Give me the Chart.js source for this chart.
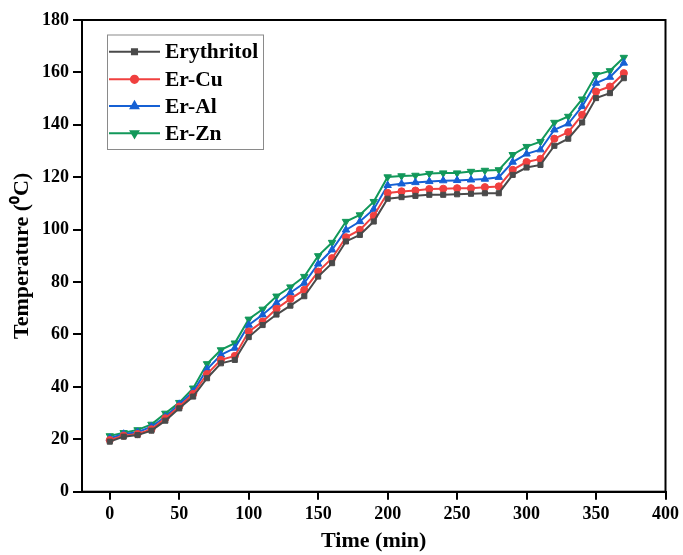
<!DOCTYPE html>
<html>
<head>
<meta charset="utf-8">
<script src="https://cdn.jsdelivr.net/npm/chart.js@4/dist/chart.umd.min.js"></script>
<style>
html,body{margin:0;padding:0;background:#fff;}
#wrap{width:683px;height:555px;position:relative;}
</style>
</head>
<body>
<div id="wrap"><canvas id="c" width="683" height="555"></canvas></div>
<script>
const times = [0,10,20,30,40,50,60,70,80,90,100,110,120,130,140,150,160,170,180,190,200,210,220,230,240,250,260,270,280,290,300,310,320,330,340,350,360,370];
const erythritol = [19.1,21,21.6,23.3,27.1,31.8,36.3,43.3,49,50.3,59,63.6,67.6,71,74.6,82.1,87.2,95.5,98,103.1,111.8,112.4,112.9,113.3,113.3,113.5,113.7,113.9,113.9,120.9,123.7,124.7,132,134.7,140.9,150.2,152.1,157.8];
const erCu = [19.7,21.4,22,23.8,28,32.5,37.3,44.9,50.3,51.8,61.1,64.9,69.8,73.6,77,84,89.1,97.1,99.9,105.3,114,114.6,114.9,115.5,115.6,115.8,115.8,116.2,116.5,122.8,125.8,127,134.7,137.2,143.8,152.7,154.6,159.7];
const erAl = [20.4,22,22.7,24.8,28.6,33.4,38.2,46.7,52.2,54.8,63.6,67.5,72,75.9,79.6,86.9,92.3,99.9,103.1,107.8,116.9,117.5,118,118.4,118.7,118.8,119,119.3,120,125.8,128.9,130.5,138.1,140.4,147,155.9,158.2,163.6];
const erZn = [21.3,22.5,23.6,25.7,29.9,34,39.5,48.8,54.1,56.7,65.8,69.6,74.6,78.1,82.1,90,95.1,103.1,105.6,110.7,120.1,120.5,120.7,121.4,121.6,121.6,122.2,122.6,122.8,128.6,131.7,133.6,140.9,143.2,149.8,159.1,160.6,165.7];
const seriesLabels = ['Erythritol','Er-Cu','Er-Al','Er-Zn'];
const xTicks = [0,50,100,150,200,250,300,350,400];
const yTicks = [0,20,40,60,80,100,120,140,160,180];
const xTitle = 'Time (min)';
const yTitle = 'Temperature (\u2070C)';

const colors = ['#4a4a4a','#f0403f','#1560d4','#12985a'];
const styles = [
  {pointStyle:'rect', radius:3.6, rotation:0},
  {pointStyle:'circle', radius:3.6, rotation:0},
  {pointStyle:'triangle', radius:4.3, rotation:0},
  {pointStyle:'triangle', radius:4.3, rotation:180}
];
const seriesData = [erythritol, erCu, erAl, erZn];

const datasets = seriesData.map((arr,i)=>({
  label: seriesLabels[i],
  data: arr.map((v,j)=>({x: times[j], y: v})),
  borderColor: colors[i],
  backgroundColor: colors[i],
  borderWidth: 2,
  pointStyle: styles[i].pointStyle,
  pointRadius: styles[i].radius,
  pointRotation: styles[i].rotation,
  pointBorderWidth: 1,
  tension: 0
}));

const SERIF = '"Liberation Serif", "Times New Roman", serif';

const frameAndLegend = {
  id: 'frameAndLegend',
  afterDatasetsDraw(chart){
    const ctx = chart.ctx, a = chart.chartArea;
    ctx.save();
    ctx.strokeStyle = '#000';
    ctx.lineWidth = 2;
    ctx.strokeRect(a.left, a.top, a.right - a.left, a.bottom - a.top);
    // legend
    const bx = 107, by = 34.5, bw = 156, bh = 114.5;
    ctx.fillStyle = '#fff';
    ctx.fillRect(bx, by, bw, bh);
    ctx.strokeStyle = '#8a8a8a';
    ctx.lineWidth = 1;
    ctx.strokeRect(bx+0.5, by+0.5, bw, bh);
    const rows = [51.7, 79.3, 106, 133.3];
    chart.data.datasets.forEach((ds,i)=>{
      const y = rows[i];
      ctx.strokeStyle = ds.borderColor;
      ctx.lineWidth = 2;
      ctx.beginPath();
      ctx.moveTo(109, y);
      ctx.lineTo(160, y);
      ctx.stroke();
      ctx.fillStyle = ds.backgroundColor;
      Chart.helpers.drawPoint(ctx, {pointStyle: ds.pointStyle, radius: ds.pointRadius, rotation: ds.pointRotation, borderWidth: 1}, 134.5, y);
      ctx.fillStyle = '#000';
      ctx.font = 'bold 21.5px ' + SERIF;
      ctx.textBaseline = 'middle';
      ctx.textAlign = 'left';
      ctx.fillText(ds.label, 165, y + 1);
    });
    ctx.restore();
  }
};

new Chart(document.getElementById('c'), {
  type: 'line',
  data: { datasets },
  options: {
    responsive: false,
    animation: false,
    layout: { padding: { top: 20, right: 17, left: 0, bottom: 0 } },
    plugins: { legend: { display: false }, tooltip: { enabled: false } },
    scales: {
      x: {
        type: 'linear',
        min: -20, max: 400,
        afterBuildTicks(scale){ scale.ticks = xTicks.map(v=>({value:v})); },
        afterFit(scale){ scale.height = 63.3; },
        grid: { drawOnChartArea: false, drawTicks: true, tickLength: 8, color: '#000', lineWidth: 2 },
        border: { display: true, color: '#000', width: 2 },
        ticks: { color: '#000', padding: 4, maxRotation: 0, autoSkip: false,
          font: { family: SERIF, size: 18, weight: 'bold' } },
        title: { display: true, text: xTitle, color: '#000', padding: { top: 0, bottom: 0 },
          font: { family: SERIF, size: 22, weight: 'bold' } }
      },
      y: {
        type: 'linear',
        min: 0, max: 180,
        afterBuildTicks(scale){ scale.ticks = yTicks.map(v=>({value:v})); },
        afterFit(scale){ scale.width = 82; },
        grid: { drawOnChartArea: false, drawTicks: true, tickLength: 9, color: '#000', lineWidth: 2 },
        border: { display: true, color: '#000', width: 2 },
        ticks: { color: '#000', padding: 4, autoSkip: false,
          font: { family: SERIF, size: 18, weight: 'bold' } },
        title: { display: true, text: yTitle, color: '#000', padding: { top: 9, bottom: 0 },
          font: { family: SERIF, size: 22, weight: 'bold' } }
      }
    }
  },
  plugins: [frameAndLegend]
});
</script>
</body>
</html>
